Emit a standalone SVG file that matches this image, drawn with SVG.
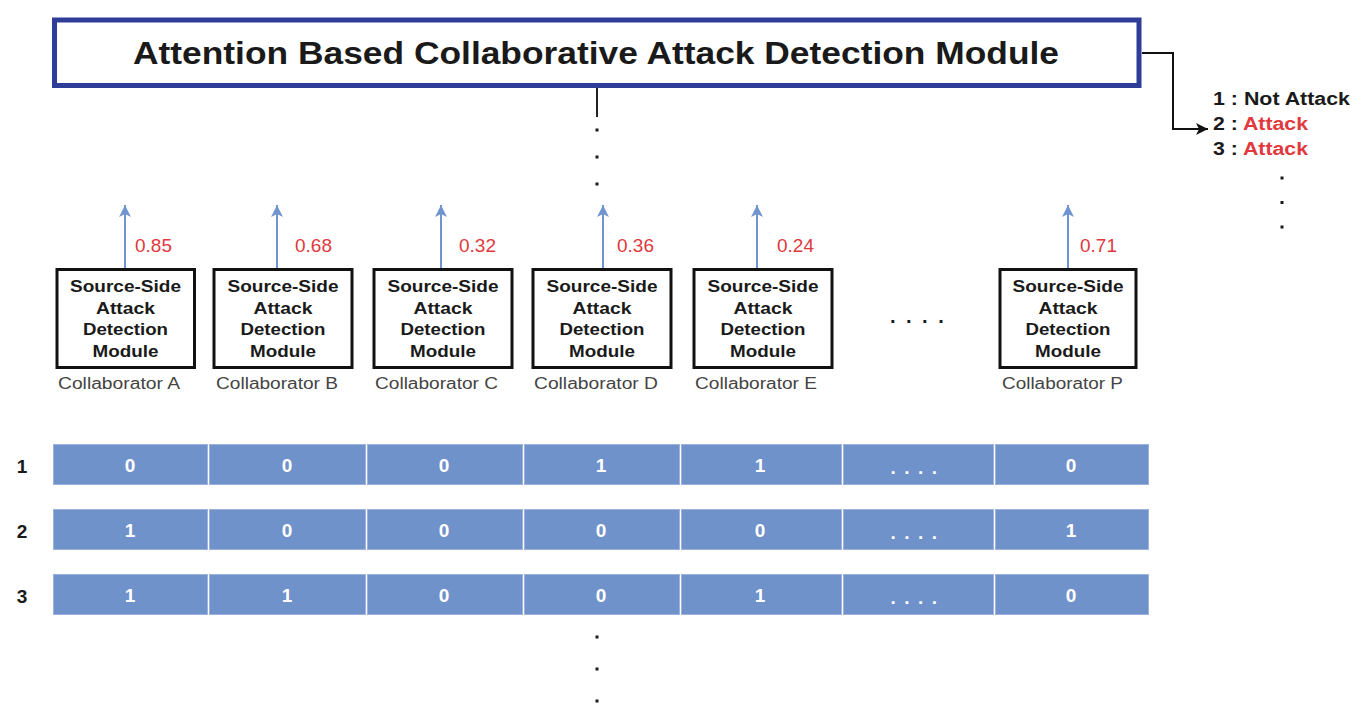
<svg xmlns="http://www.w3.org/2000/svg" width="1366" height="722" viewBox="0 0 1366 722">
<style>
  .t { font-family: "Liberation Sans", Arial, sans-serif; }
  .mod { fill: #fff; stroke: #111; stroke-width: 3; }
  .modtxt { font-family: "Liberation Sans", Arial, sans-serif; font-weight: bold; font-size: 16.5px; fill: #1a1a1a; text-anchor: middle; }
  .collab { font-family: "Liberation Sans", Arial, sans-serif; font-size: 16px; fill: #444; }
  .val { font-family: "Liberation Sans", Arial, sans-serif; font-size: 19px; fill: #E0393E; }
  .cell { fill: #7092CB; stroke: #9DB3DD; stroke-width: 1; }
  .celltxt { font-family: "Liberation Sans", Arial, sans-serif; font-weight: bold; font-size: 19px; fill: #fff; text-anchor: middle; }
  .rowlab { font-family: "Liberation Sans", Arial, sans-serif; font-weight: bold; font-size: 19px; fill: #1a1a1a; text-anchor: middle; }
  .blue { stroke: #7094D0; stroke-width: 2; fill: none; }
  .dot { fill: #1a1a1a; }
  .red { fill: #E0393E; }
</style>
<defs>
  <marker id="ab" markerWidth="14" markerHeight="14" refX="12" refY="7" orient="auto" markerUnits="userSpaceOnUse">
    <path d="M0,1 L12,7 L0,13 L3,7 Z" fill="#7094D0"/>
  </marker>
  <marker id="ak" markerWidth="14" markerHeight="14" refX="12" refY="7" orient="auto" markerUnits="userSpaceOnUse">
    <path d="M0,1 L12,7 L0,13 L3,7 Z" fill="#111"/>
  </marker>
</defs>
<rect width="1366" height="722" fill="#fff"/>

<g id="title">
  <rect x="54.5" y="20" width="1084.5" height="65.5" fill="#fff" stroke="#2E3D98" stroke-width="5"/>
  <text class="t" x="133" y="64" font-size="32" font-weight="bold" fill="#1a1a1a" textLength="926" lengthAdjust="spacingAndGlyphs">Attention Based Collaborative Attack Detection Module</text>
</g>

<g id="output">
  <text class="t" x="1213" y="105" font-size="18" font-weight="bold" fill="#1a1a1a" textLength="137" lengthAdjust="spacingAndGlyphs">1 : Not Attack</text>
  <text class="t" x="1213" y="130" font-size="18" font-weight="bold" fill="#1a1a1a" textLength="95" lengthAdjust="spacingAndGlyphs">2 : <tspan class="red">Attack</tspan></text>
  <text class="t" x="1213" y="155" font-size="18" font-weight="bold" fill="#1a1a1a" textLength="95" lengthAdjust="spacingAndGlyphs">3 : <tspan class="red">Attack</tspan></text>
  <rect class="dot" x="1280.5" y="176.5" width="3" height="3"/>
  <rect class="dot" x="1280.5" y="201" width="3" height="3"/>
  <rect class="dot" x="1280.5" y="225.5" width="3" height="3"/>
</g>

<g id="connectors">
  <path d="M1142,53 H1173 V129 H1208" fill="none" stroke="#111" stroke-width="2" marker-end="url(#ak)"/>
  <line x1="597" y1="88" x2="597" y2="117" stroke="#222" stroke-width="2"/>
  <line class="blue" x1="125" y1="268" x2="125" y2="205" marker-end="url(#ab)"/>
  <line class="blue" x1="277" y1="268" x2="277" y2="205" marker-end="url(#ab)"/>
  <line class="blue" x1="441" y1="268" x2="441" y2="205" marker-end="url(#ab)"/>
  <line class="blue" x1="603" y1="268" x2="603" y2="205" marker-end="url(#ab)"/>
  <line class="blue" x1="757" y1="268" x2="757" y2="205" marker-end="url(#ab)"/>
  <line class="blue" x1="1068" y1="268" x2="1068" y2="205" marker-end="url(#ab)"/>
</g>

<g id="vdots-top">
  <rect class="dot" x="595.5" y="128.5" width="3" height="3"/>
  <rect class="dot" x="595.5" y="155.5" width="3" height="3"/>
  <rect class="dot" x="595.5" y="182.5" width="3" height="3"/>
</g>

<g id="values">
  <text class="val" x="135" y="252">0.85</text>
  <text class="val" x="295" y="252">0.68</text>
  <text class="val" x="459" y="252">0.32</text>
  <text class="val" x="617" y="252">0.36</text>
  <text class="val" x="777" y="252">0.24</text>
  <text class="val" x="1080" y="252">0.71</text>
</g>

<g id="moduleA">
  <rect class="mod" x="57" y="269.5" width="137.5" height="98"/>
  <text class="modtxt" x="125.5" y="292" textLength="111" lengthAdjust="spacingAndGlyphs">Source-Side</text>
  <text class="modtxt" x="125.5" y="313.5" textLength="59" lengthAdjust="spacingAndGlyphs">Attack</text>
  <text class="modtxt" x="125.5" y="335" textLength="85" lengthAdjust="spacingAndGlyphs">Detection</text>
  <text class="modtxt" x="125.5" y="357" textLength="66" lengthAdjust="spacingAndGlyphs">Module</text>
  <text class="collab" x="58" y="389" textLength="122" lengthAdjust="spacingAndGlyphs">Collaborator A</text>
</g>
<g id="moduleB">
  <rect class="mod" x="214" y="269.5" width="138" height="98"/>
  <text class="modtxt" x="283" y="292" textLength="111" lengthAdjust="spacingAndGlyphs">Source-Side</text>
  <text class="modtxt" x="283" y="313.5" textLength="59" lengthAdjust="spacingAndGlyphs">Attack</text>
  <text class="modtxt" x="283" y="335" textLength="85" lengthAdjust="spacingAndGlyphs">Detection</text>
  <text class="modtxt" x="283" y="357" textLength="66" lengthAdjust="spacingAndGlyphs">Module</text>
  <text class="collab" x="216" y="389" textLength="122" lengthAdjust="spacingAndGlyphs">Collaborator B</text>
</g>
<g id="moduleC">
  <rect class="mod" x="374" y="269.5" width="138" height="98"/>
  <text class="modtxt" x="443" y="292" textLength="111" lengthAdjust="spacingAndGlyphs">Source-Side</text>
  <text class="modtxt" x="443" y="313.5" textLength="59" lengthAdjust="spacingAndGlyphs">Attack</text>
  <text class="modtxt" x="443" y="335" textLength="85" lengthAdjust="spacingAndGlyphs">Detection</text>
  <text class="modtxt" x="443" y="357" textLength="66" lengthAdjust="spacingAndGlyphs">Module</text>
  <text class="collab" x="375" y="389" textLength="123" lengthAdjust="spacingAndGlyphs">Collaborator C</text>
</g>
<g id="moduleD">
  <rect class="mod" x="533" y="269.5" width="138" height="98"/>
  <text class="modtxt" x="602" y="292" textLength="111" lengthAdjust="spacingAndGlyphs">Source-Side</text>
  <text class="modtxt" x="602" y="313.5" textLength="59" lengthAdjust="spacingAndGlyphs">Attack</text>
  <text class="modtxt" x="602" y="335" textLength="85" lengthAdjust="spacingAndGlyphs">Detection</text>
  <text class="modtxt" x="602" y="357" textLength="66" lengthAdjust="spacingAndGlyphs">Module</text>
  <text class="collab" x="534" y="389" textLength="124" lengthAdjust="spacingAndGlyphs">Collaborator D</text>
</g>
<g id="moduleE">
  <rect class="mod" x="694" y="269.5" width="138" height="98"/>
  <text class="modtxt" x="763" y="292" textLength="111" lengthAdjust="spacingAndGlyphs">Source-Side</text>
  <text class="modtxt" x="763" y="313.5" textLength="59" lengthAdjust="spacingAndGlyphs">Attack</text>
  <text class="modtxt" x="763" y="335" textLength="85" lengthAdjust="spacingAndGlyphs">Detection</text>
  <text class="modtxt" x="763" y="357" textLength="66" lengthAdjust="spacingAndGlyphs">Module</text>
  <text class="collab" x="695" y="389" textLength="122" lengthAdjust="spacingAndGlyphs">Collaborator E</text>
</g>
<g id="hdots">
  <text class="t" x="890" y="323" font-size="20" font-weight="bold" fill="#1a1a1a" letter-spacing="10.5">....</text>
</g>
<g id="moduleP">
  <rect class="mod" x="1000" y="269.5" width="136" height="98"/>
  <text class="modtxt" x="1068" y="292" textLength="111" lengthAdjust="spacingAndGlyphs">Source-Side</text>
  <text class="modtxt" x="1068" y="313.5" textLength="59" lengthAdjust="spacingAndGlyphs">Attack</text>
  <text class="modtxt" x="1068" y="335" textLength="85" lengthAdjust="spacingAndGlyphs">Detection</text>
  <text class="modtxt" x="1068" y="357" textLength="66" lengthAdjust="spacingAndGlyphs">Module</text>
  <text class="collab" x="1002" y="389" textLength="121" lengthAdjust="spacingAndGlyphs">Collaborator P</text>
</g>

<g id="row1">
  <text class="rowlab" x="22" y="473">1</text>
  <rect class="cell" x="53.5" y="444.5" width="154" height="40"/>
  <rect class="cell" x="209.5" y="444.5" width="156" height="40"/>
  <rect class="cell" x="367.5" y="444.5" width="155" height="40"/>
  <rect class="cell" x="524.5" y="444.5" width="155" height="40"/>
  <rect class="cell" x="681.5" y="444.5" width="160" height="40"/>
  <rect class="cell" x="843.5" y="444.5" width="150" height="40"/>
  <rect class="cell" x="995.5" y="444.5" width="153" height="40"/>
  <text class="celltxt" x="130" y="472">0</text>
  <text class="celltxt" x="287" y="472">0</text>
  <text class="celltxt" x="444" y="472">0</text>
  <text class="celltxt" x="601" y="472">1</text>
  <text class="celltxt" x="760" y="472">1</text>
  <text class="celltxt" x="918" y="474" font-size="16" letter-spacing="8.5">....</text>
  <text class="celltxt" x="1071" y="472">0</text>
</g>
<g id="row2">
  <text class="rowlab" x="22" y="538">2</text>
  <rect class="cell" x="53.5" y="509.5" width="154" height="40"/>
  <rect class="cell" x="209.5" y="509.5" width="156" height="40"/>
  <rect class="cell" x="367.5" y="509.5" width="155" height="40"/>
  <rect class="cell" x="524.5" y="509.5" width="155" height="40"/>
  <rect class="cell" x="681.5" y="509.5" width="160" height="40"/>
  <rect class="cell" x="843.5" y="509.5" width="150" height="40"/>
  <rect class="cell" x="995.5" y="509.5" width="153" height="40"/>
  <text class="celltxt" x="130" y="537">1</text>
  <text class="celltxt" x="287" y="537">0</text>
  <text class="celltxt" x="444" y="537">0</text>
  <text class="celltxt" x="601" y="537">0</text>
  <text class="celltxt" x="760" y="537">0</text>
  <text class="celltxt" x="918" y="539" font-size="16" letter-spacing="8.5">....</text>
  <text class="celltxt" x="1071" y="537">1</text>
</g>
<g id="row3">
  <text class="rowlab" x="22" y="603">3</text>
  <rect class="cell" x="53.5" y="574.5" width="154" height="40"/>
  <rect class="cell" x="209.5" y="574.5" width="156" height="40"/>
  <rect class="cell" x="367.5" y="574.5" width="155" height="40"/>
  <rect class="cell" x="524.5" y="574.5" width="155" height="40"/>
  <rect class="cell" x="681.5" y="574.5" width="160" height="40"/>
  <rect class="cell" x="843.5" y="574.5" width="150" height="40"/>
  <rect class="cell" x="995.5" y="574.5" width="153" height="40"/>
  <text class="celltxt" x="130" y="602">1</text>
  <text class="celltxt" x="287" y="602">1</text>
  <text class="celltxt" x="444" y="602">0</text>
  <text class="celltxt" x="601" y="602">0</text>
  <text class="celltxt" x="760" y="602">1</text>
  <text class="celltxt" x="918" y="604" font-size="16" letter-spacing="8.5">....</text>
  <text class="celltxt" x="1071" y="602">0</text>
</g>

<g id="vdots-bottom">
  <rect class="dot" x="595.5" y="635.5" width="3" height="3"/>
  <rect class="dot" x="595.5" y="667.5" width="3" height="3"/>
  <rect class="dot" x="595.5" y="699.5" width="3" height="3"/>
</g>
</svg>
